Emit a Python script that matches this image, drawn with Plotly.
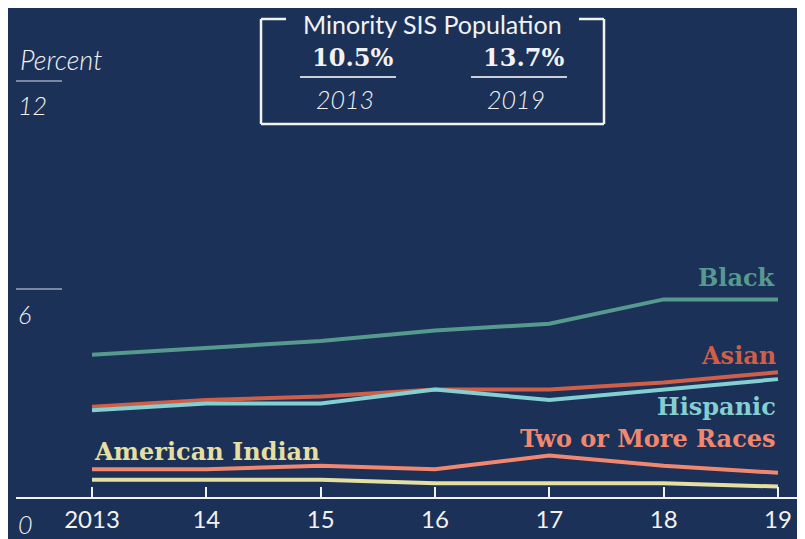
import plotly.graph_objects as go

# ---- data ----
years = [2013, 2014, 2015, 2016, 2017, 2018, 2019]
year_labels = ["2013", "14", "15", "16", "17", "18", "19"]
black = [4.1, 4.3, 4.5, 4.8, 5.0, 5.7, 5.7]
asian = [2.6, 2.8, 2.9, 3.1, 3.1, 3.3, 3.6]
hispanic = [2.5, 2.7, 2.7, 3.1, 2.8, 3.1, 3.4]
two_more = [0.8, 0.8, 0.9, 0.8, 1.2, 0.9, 0.7]
am_indian = [0.5, 0.5, 0.5, 0.4, 0.4, 0.4, 0.3]
y_ticks = [0, 6, 12]
box_values = ["10.5%", "13.7%"]
box_years = ["2013", "2019"]

BG = "#1b3157"
WHITE = "#f2f2f2"
SANS = "Lato"
SERIF = "DejaVu Serif"

OFF = 8  # page body margin
W, H = 805 - OFF, 539 - OFF
AXIS_Y = 497   # screen pixel of y=0
LEFT = 16      # screen pixel of axis start
L, R, T, B = LEFT - OFF, 0, 3, 539 - AXIS_Y
PW, PH = W - L - R, H - T - B


def px(x):
    return (x - OFF - L) / PW


def py(y):
    return (H - B - (y - OFF)) / PH


series = [
    ("Black", black, "#55998f"),
    ("Asian", asian, "#cf5f48"),
    ("Hispanic", hispanic, "#84cfd2"),
    ("Two or More Races", two_more, "#f2876f"),
    ("American Indian", am_indian, "#e5dfa2"),
]

fig = go.Figure()
for name, vals, col in series:
    fig.add_trace(go.Scatter(x=years, y=vals, mode="lines", name=name,
                             line=dict(color=col, width=4), hoverinfo="skip"))

ann = []
label_pos = {
    "Black": (778, 277, "right"),
    "Asian": (778, 355, "right"),
    "Hispanic": (778, 406, "right"),
    "Two or More Races": (778, 438, "right"),
    "American Indian": (92, 451, "left"),
}
for name, vals, col in series:
    x, y, anc = label_pos[name]
    ann.append(dict(x=px(x), y=py(y), xref="paper", yref="paper", text="<b>%s</b>" % name,
                    showarrow=False, xanchor=anc, yanchor="middle",
                    font=dict(family=SERIF, size=24, color=col)))

ylab_pos = {0: 524, 6: 314, 12: 105}
for v in y_ticks:
    ann.append(dict(x=px(16), y=py(ylab_pos[v]), xref="paper", yref="paper",
                    text="<i>%d</i>" % v, showarrow=False, xanchor="left", yanchor="middle",
                    font=dict(family=SANS, size=25, color=WHITE, weight=300)))
ann.append(dict(x=px(18), y=py(59), xref="paper", yref="paper", text="<i>Percent</i>",
                showarrow=False, xanchor="left", yanchor="middle",
                font=dict(family=SANS, size=27, color=WHITE, weight=300)))

shapes = []
for v in y_ticks[1:]:
    shapes.append(dict(type="line", xref="paper", yref="y", x0=0, x1=px(62), y0=v, y1=v,
                       line=dict(color="#9aa6bd", width=1.5)))

bl, br, bt, bb = 261, 604, 19, 124
for (x0, y0, x1, y1) in [(bl, bt, 286, bt), (579, bt, br, bt), (bl, bt, bl, bb),
                         (br, bt, br, bb), (bl, bb, br, bb)]:
    shapes.append(dict(type="line", xref="paper", yref="paper", x0=px(x0), x1=px(x1),
                       y0=py(y0), y1=py(y1), line=dict(color=WHITE, width=2.5)))
ann.append(dict(x=px(432), y=py(8), xref="paper", yref="paper", text="Minority SIS Population",
                showarrow=False, xanchor="center", yanchor="top", borderpad=0,
                font=dict(family=SANS, size=25, color=WHITE)))
for cx, val, yr in zip([352, 523], box_values, box_years):
    ann.append(dict(x=px(cx), y=py(58), xref="paper", yref="paper", text="<b>%s</b>" % val,
                    showarrow=False, xanchor="center", yanchor="middle",
                    font=dict(family=SERIF, size=24, color=WHITE)))
    ann.append(dict(x=px(cx - 7), y=py(99), xref="paper", yref="paper", text="<i>%s</i>" % yr,
                    showarrow=False, xanchor="center", yanchor="middle",
                    font=dict(family=SANS, size=25, color=WHITE, weight=300)))
    shapes.append(dict(type="line", xref="paper", yref="paper", x0=px(cx - 52), x1=px(cx + 44),
                       y0=py(77), y1=py(77), line=dict(color="#c9ced8", width=2)))

per_year = (778 - 92) / 6
fig.update_layout(
    width=W, height=H,
    margin=dict(l=L, r=R, t=T, b=B, pad=0),
    paper_bgcolor=BG, plot_bgcolor=BG,
    showlegend=False,
    annotations=ann, shapes=shapes,
    xaxis=dict(range=[2013 - (92 - LEFT) / per_year, 2013 + (805 - 92) / per_year],
               tickvals=years, ticktext=year_labels, showgrid=False, zeroline=False,
               showline=True, linecolor=WHITE, linewidth=2,
               ticks="inside", ticklen=10, tickwidth=2, tickcolor=WHITE,
               tickfont=dict(family=SANS, size=24, color=WHITE)),
    yaxis=dict(range=[0, PH / ((AXIS_Y - 289) / 6)], visible=False, fixedrange=True),
)

fig.write_html("out.html", config={"displayModeBar": False})
